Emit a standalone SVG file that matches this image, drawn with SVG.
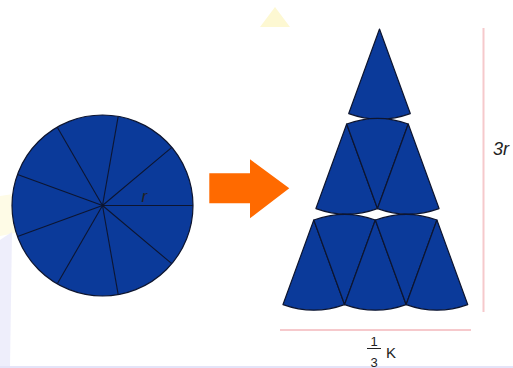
<svg xmlns="http://www.w3.org/2000/svg" width="513" height="368" viewBox="0 0 513 368">
  <style>
    .sec { fill: #0b3a9a; stroke: #0d1530; stroke-width: 1.2; stroke-linejoin: round; }
    .rad { stroke: #0d1530; stroke-width: 1.1; }
    .dim { stroke: #f6c9cc; stroke-width: 2; fill: none; }
    .lbl { font-family: "Liberation Sans", Arial, sans-serif; fill: #222; }
  </style>
  <rect width="513" height="368" fill="#ffffff"/>
  <g id="watermark">
    <polygon points="275,7 260,27 290,27" fill="#fdf8d2"/>
    <polygon points="0,196 40,190 30,230 0,236" fill="#fefbe6"/>
    <polygon points="0,240 12,232 10,368 0,368" fill="#eeeefb"/>
    <rect x="0" y="366" width="513" height="2" fill="#e4e4f8"/>
  </g>
  <g id="circle">
    <circle cx="102.5" cy="205.5" r="90.5" class="sec"/>
    <g class="rad">
      <line x1="102.5" y1="205.5" x2="193" y2="205.5"/>
      <line x1="102.5" y1="205.5" x2="171.8" y2="147.3"/>
      <line x1="102.5" y1="205.5" x2="118.2" y2="116.4"/>
      <line x1="102.5" y1="205.5" x2="57.3" y2="127.2"/>
      <line x1="102.5" y1="205.5" x2="17.5" y2="174.5"/>
      <line x1="102.5" y1="205.5" x2="17.5" y2="236.5"/>
      <line x1="102.5" y1="205.5" x2="57.3" y2="283.8"/>
      <line x1="102.5" y1="205.5" x2="118.2" y2="294.6"/>
      <line x1="102.5" y1="205.5" x2="171.8" y2="263.7"/>
    </g>
    <text class="lbl" x="141.5" y="201.5" font-size="17" font-style="italic" fill="#000">r</text>
  </g>
  <g id="arrow">
    <polygon points="209.3,173.3 250,173.3 250,159.3 289.3,188.3 250,218.3 250,203.3 209.3,203.3" fill="#ff6a00"/>
  </g>
  <g id="cone">
    <path class="sec" d="M379.5,29 L348.72,113.57 A90,90 0 0 0 410.28,113.57 Z"/>
    <path class="sec" d="M346.7,124 L315.92,208.57 A90,90 0 0 0 377.48,208.57 Z"/>
    <path class="sec" d="M377.48,208.57 L346.7,124 A90,90 0 0 1 408.26,124 Z"/>
    <path class="sec" d="M408.26,124 L377.48,208.57 A90,90 0 0 0 439.04,208.57 Z"/>
    <path class="sec" d="M313.8,220 L283.02,304.57 A90,90 0 0 0 344.58,304.57 Z"/>
    <path class="sec" d="M344.58,304.57 L313.8,220 A90,90 0 0 1 375.36,220 Z"/>
    <path class="sec" d="M375.36,220 L344.58,304.57 A90,90 0 0 0 406.14,304.57 Z"/>
    <path class="sec" d="M406.14,304.57 L375.36,220 A90,90 0 0 1 436.92,220 Z"/>
    <path class="sec" d="M436.92,220 L406.14,304.57 A90,90 0 0 0 467.7,304.57 Z"/>
  </g>
  <g id="dimensions">
    <line class="dim" x1="483.5" y1="28" x2="483.5" y2="312"/>
    <line class="dim" x1="280" y1="330" x2="471" y2="330"/>
  </g>
  <g id="height-label">
    <text class="lbl" x="493" y="155" font-size="18" font-style="italic">3r</text>
  </g>
  <g id="base-label">
    <text class="lbl" x="374" y="346" font-size="13" text-anchor="middle">1</text>
    <line x1="367" y1="348.5" x2="381" y2="348.5" stroke="#222" stroke-width="1"/>
    <text class="lbl" x="374" y="366.5" font-size="13" text-anchor="middle">3</text>
    <text class="lbl" x="386" y="358" font-size="15">K</text>
  </g>
</svg>
